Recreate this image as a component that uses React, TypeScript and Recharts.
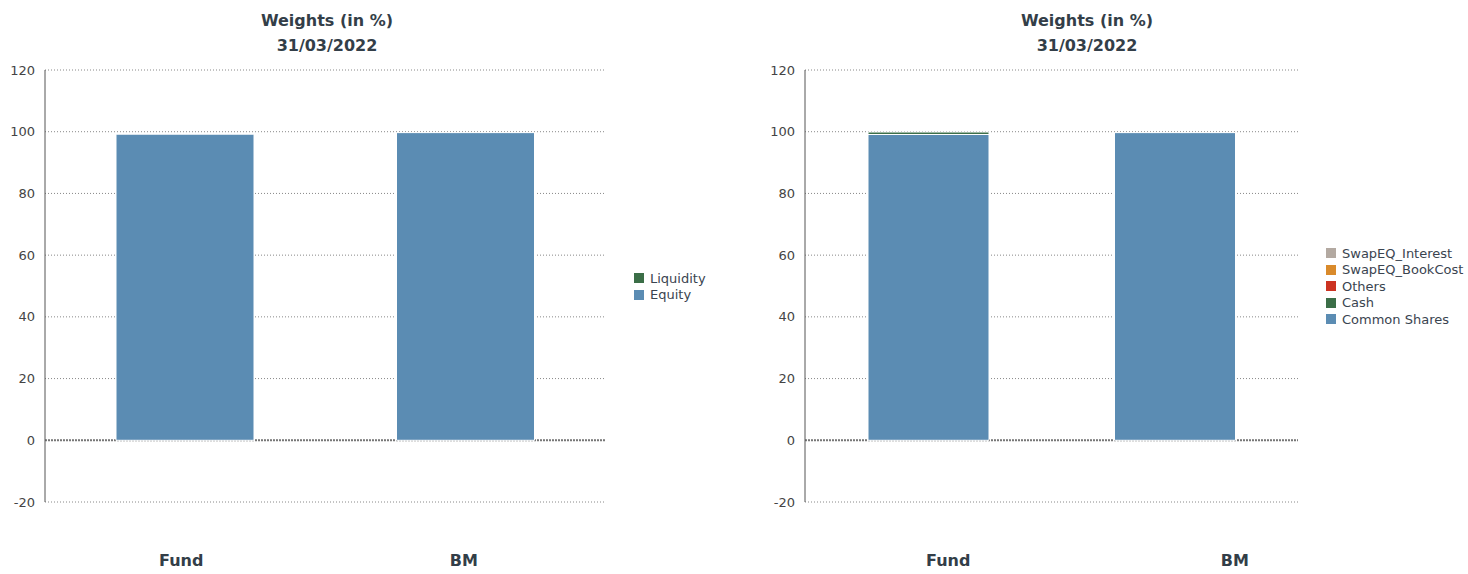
import React from 'react';
import { BarChart, Bar, XAxis, YAxis, CartesianGrid } from 'recharts';

const categories = ['Fund', 'BM'];
const yTicks = [-20, 0, 20, 40, 60, 80, 100, 120];

// Left chart (asset class)
const equity = [99.2, 99.7];
const liquidity = [0, 0];

// Right chart (instrument type)
const commonShares = [99.1, 99.7];
const cash = [0.8, 0];
const others = [0, 0];
const swapBookCost = [0, 0];
const swapInterest = [0, 0];

const COLORS = {
  equity: '#5b8cb3',
  green: '#3b6e47',
  red: '#cc3322',
  orange: '#d98a2b',
  gray: '#b3a9a1',
};

const leftData = categories.map((c, i) => ({ name: c, Equity: equity[i], Liquidity: liquidity[i] }));
const rightData = categories.map((c, i) => ({
  name: c,
  'Common Shares': commonShares[i],
  Cash: cash[i],
  Others: others[i],
  SwapEQ_BookCost: swapBookCost[i],
  SwapEQ_Interest: swapInterest[i],
}));

const FONT = '"DejaVu Sans", Verdana, sans-serif';
const TEXT = '#333e48';

const makeTick = (offsets: number[]) => (props: any) => {
  const { x, y, payload, index } = props;
  return (
    <text x={x + (offsets[index] || 0)} y={y + 56} textAnchor="middle" fill={TEXT}
      style={{ fontFamily: FONT, fontWeight: 'bold', fontSize: 16 }}>
      {payload.value}
    </text>
  );
};

const Title = ({ cx }: { cx: number }) => (
  <div style={{ position: 'absolute', left: cx - 150, top: 8, width: 300, textAlign: 'center',
    fontFamily: FONT, fontWeight: 'bold', fontSize: 16, color: TEXT, lineHeight: '25px' }}>
    <div>Weights (in %)</div>
    <div>31/03/2022</div>
  </div>
);

const LegendBox = ({ left, top, items }: { left: number; top: number; items: { name: string; color: string }[] }) => (
  <div style={{ position: 'absolute', left, top, fontFamily: FONT, fontSize: 13, color: '#3a4450' }}>
    {items.map((it) => (
      <div key={it.name} style={{ display: 'flex', alignItems: 'center', height: 16.5 }}>
        <span style={{ display: 'inline-block', width: 10, height: 10, background: it.color, marginRight: 6 }} />
        <span>{it.name}</span>
      </div>
    ))}
  </div>
);

const axisTick = { fill: '#444', fontSize: 13, fontFamily: FONT };

export default function App() {
  return (
    <div style={{ position: 'absolute', left: 0, top: 0, width: 1468, height: 574, background: '#fff', overflow: 'hidden' }}>
      <Title cx={327} />
      <Title cx={1087} />
      <div style={{ position: 'absolute', left: 0, top: 0 }}>
        <BarChart width={660} height={574} data={leftData} margin={{ top: 70, right: 54, bottom: 0, left: 0 }} barSize={138}>
          <CartesianGrid vertical={false} stroke="#888" strokeDasharray="1 2" />
          <CartesianGrid vertical={false} horizontalValues={[0]} stroke="#777" strokeWidth={2} strokeDasharray="2 1" />
          <XAxis dataKey="name" axisLine={false} tickLine={false} height={72} tick={makeTick([-4, -2])} />
          <YAxis width={45} domain={[-20, 120]} ticks={yTicks} axisLine={{ stroke: '#555' }} tickLine={false} tickMargin={4} tick={axisTick} />
          <Bar dataKey="Equity" stackId="a" fill={COLORS.equity} stroke="#fff" strokeWidth={1} isAnimationActive={false} />
          <Bar dataKey="Liquidity" stackId="a" fill={COLORS.green} stroke="#fff" strokeWidth={1} isAnimationActive={false} />
        </BarChart>
      </div>
      <LegendBox left={634} top={270} items={[
        { name: 'Liquidity', color: COLORS.green },
        { name: 'Equity', color: COLORS.equity },
      ]} />
      <div style={{ position: 'absolute', left: 760, top: 0 }}>
        <BarChart width={540} height={574} data={rightData} margin={{ top: 70, right: 2, bottom: 0, left: 0 }} barSize={121}>
          <CartesianGrid vertical={false} stroke="#888" strokeDasharray="1 2" />
          <CartesianGrid vertical={false} horizontalValues={[0]} stroke="#777" strokeWidth={2} strokeDasharray="2 1" />
          <XAxis dataKey="name" axisLine={false} tickLine={false} height={72} tick={makeTick([20, 60])} />
          <YAxis width={45} domain={[-20, 120]} ticks={yTicks} axisLine={{ stroke: '#555' }} tickLine={false} tickMargin={4} tick={axisTick} />
          <Bar dataKey="Common Shares" stackId="a" fill={COLORS.equity} stroke="#fff" strokeWidth={1} isAnimationActive={false} />
          <Bar dataKey="Cash" stackId="a" fill={COLORS.green} stroke="#fff" strokeWidth={1} isAnimationActive={false} />
          <Bar dataKey="Others" stackId="a" fill={COLORS.red} stroke="#fff" strokeWidth={1} isAnimationActive={false} />
          <Bar dataKey="SwapEQ_BookCost" stackId="a" fill={COLORS.orange} stroke="#fff" strokeWidth={1} isAnimationActive={false} />
          <Bar dataKey="SwapEQ_Interest" stackId="a" fill={COLORS.gray} stroke="#fff" strokeWidth={1} isAnimationActive={false} />
        </BarChart>
      </div>
      <LegendBox left={1326} top={245} items={[
        { name: 'SwapEQ_Interest', color: COLORS.gray },
        { name: 'SwapEQ_BookCost', color: COLORS.orange },
        { name: 'Others', color: COLORS.red },
        { name: 'Cash', color: COLORS.green },
        { name: 'Common Shares', color: COLORS.equity },
      ]} />
    </div>
  );
}
